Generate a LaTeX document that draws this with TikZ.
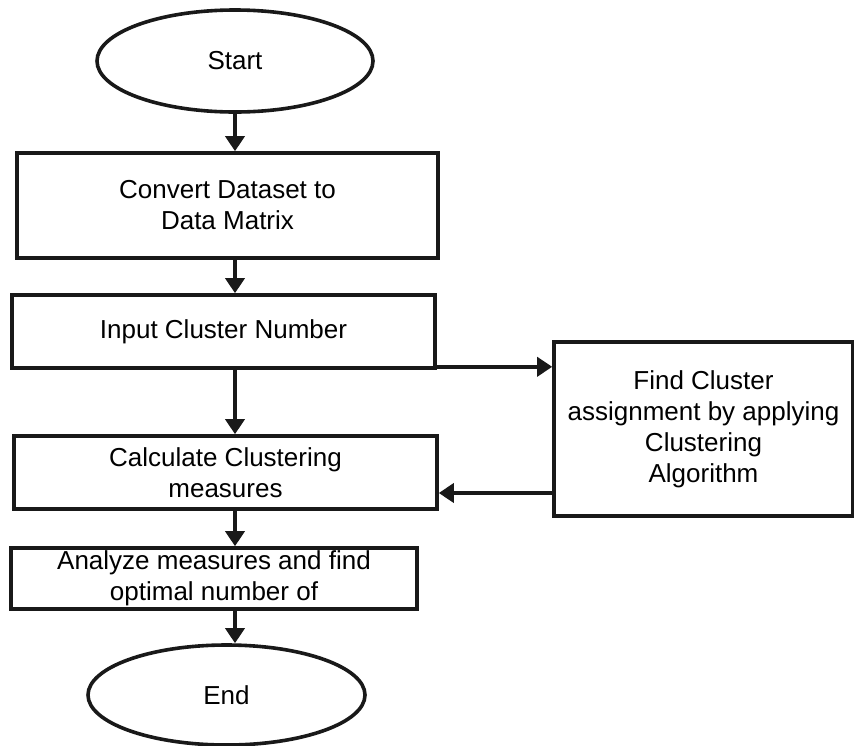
\documentclass[tikz,border=0pt]{standalone}
\usepackage{fontspec}
\setmainfont{Liberation Sans}
\usetikzlibrary{shapes.geometric,arrows.meta}
\begin{document}
\begin{tikzpicture}[x=1pt,y=-1pt,
  every node/.style={font=\fontsize{26}{31}\selectfont, align=center, line width=3.6pt, draw=black!90},
  oval/.style={ellipse, inner sep=0pt},
  procbox/.style={rectangle, inner sep=1pt},
  arr/.style={line width=3.6pt, draw=black!90, -{Triangle[length=15pt,width=19pt]}}]
\useasboundingbox (0,0) rectangle (854,745);
\node[oval, minimum width=276pt, minimum height=102pt] (start) at (235,61) {Start};
\node[procbox, minimum width=421pt, minimum height=105pt] (b1) at (227.5,205.5) {Convert Dataset to\\Data Matrix};
\node[procbox, minimum width=423pt, minimum height=73pt] (b2) at (223.5,331.5) {Input Cluster Number};
\node[procbox, minimum width=423pt, minimum height=73pt] (b3) at (225.5,472.5) {Calculate Clustering\\measures};
\node[procbox, minimum width=406pt, minimum height=61pt, inner sep=0pt] (b4) at (214,578.5) {Analyze measures and find\\optimal number of};
\node[oval, minimum width=277pt, minimum height=100pt] (end) at (226.5,695) {End};
\node[procbox, minimum width=299pt, minimum height=174pt] (find) at (703.5,429) {Find Cluster\\assignment by applying\\Clustering\\Algorithm};
\draw[arr] (start.south) -- (start.south |- b1.north);
\draw[arr] (start.south |- b1.south) -- (start.south |- b2.north);
\draw[arr] (start.south |- b2.south) -- (start.south |- b3.north);
\draw[arr] (start.south |- b3.south) -- (start.south |- b4.north);
\draw[arr] (start.south |- b4.south) -- (start.south |- end.north);
\draw[arr] ([yshift=3pt]b2.south east) -- ([yshift=3pt]b2.south east -| find.west);
\draw[arr] ([yshift=-20.5pt]b3.east -| find.west) -- ([yshift=-20.5pt]b3.east);
\end{tikzpicture}
\end{document}
